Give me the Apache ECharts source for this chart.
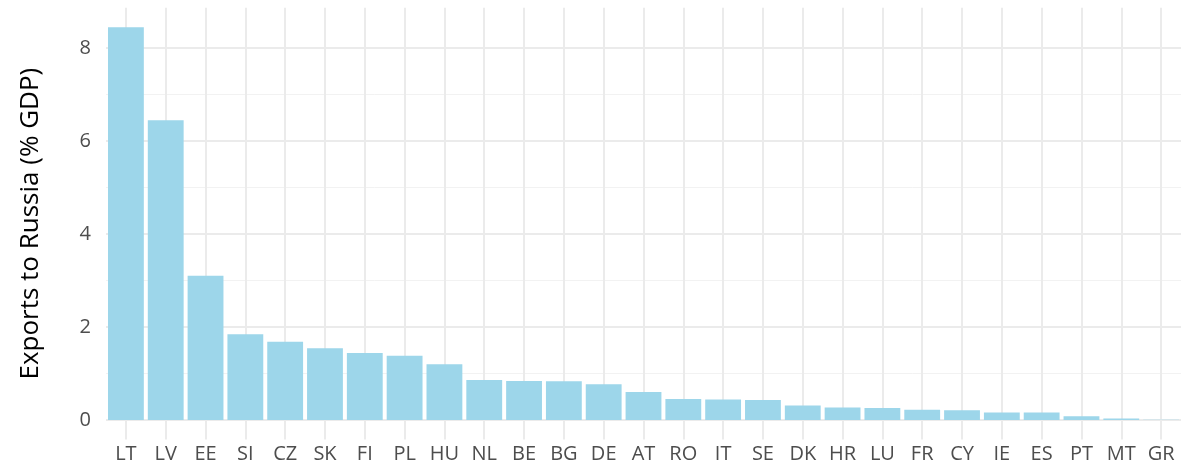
<!DOCTYPE html>
<html style="height: 100%">

<head>
    <meta charset="utf-8">
    <script src="https://cdn.jsdelivr.net/npm/echarts@6/dist/echarts.min.js"></script>
</head>

<body style="height: 100%; margin: 0; background: #fff">
    <div id="chart" style="width: 1182px; height: 470px"></div>
    <script type="text/javascript">
        // countries, sorted by exports to Russia
        var countries = ['LT', 'LV', 'EE', 'SI', 'CZ', 'SK', 'FI', 'PL', 'HU', 'NL', 'BE', 'BG', 'DE', 'AT',
            'RO', 'IT', 'SE', 'DK', 'HR', 'LU', 'FR', 'CY', 'IE', 'ES', 'PT', 'MT', 'GR'];
        // exports to Russia, % of GDP
        var exportsShare = [8.44, 6.44, 3.10, 1.84, 1.68, 1.54, 1.44, 1.38, 1.20, 0.86, 0.84, 0.83, 0.77, 0.60,
            0.45, 0.44, 0.43, 0.31, 0.27, 0.255, 0.22, 0.21, 0.16, 0.16, 0.08, 0.03, 0.005];
        var yTitle = 'Exports to Russia (% GDP)';

        var font = '"Open Sans", "Noto Sans", sans-serif';
        var grid = '#ebebeb';

        var myChart = echarts.init(document.getElementById('chart'));
        myChart.setOption({
            animation: false,
            textStyle: { fontFamily: font },
            grid: { left: 106, right: 1, top: 7.7, bottom: 30.4, containLabel: false },
            xAxis: {
                type: 'category',
                data: countries,
                axisLine: { show: false },
                axisTick: { show: false },
                axisLabel: { color: '#4d4d4d', fontSize: 20, margin: 5, fontFamily: font },
                splitLine: { show: true, alignWithLabel: true, lineStyle: { color: grid, width: 2 } }
            },
            yAxis: {
                type: 'value',
                min: -0.422,
                max: 8.862,
                splitNumber: 5,
                name: yTitle,
                nameLocation: 'middle',
                nameGap: 62,
                nameTextStyle: { color: '#000', fontSize: 26, fontFamily: font },
                axisLine: { show: false },
                axisTick: { show: false },
                axisLabel: {
                    color: '#4d4d4d', fontSize: 20, margin: 15, fontFamily: font,
                    showMinLabel: false, showMaxLabel: false
                },
                splitLine: { show: true, showMinLine: false, showMaxLine: false, lineStyle: { color: grid, width: 2 } },
                minorTick: { show: false, splitNumber: 2 },
                minorSplitLine: { show: true, lineStyle: { color: '#f2f2f2', width: 1 } }
            },
            series: [{
                type: 'bar',
                data: exportsShare,
                barCategoryGap: '10%',
                itemStyle: { color: '#9dd6ea' }
            }]
        });
    </script>
</body>

</html>
